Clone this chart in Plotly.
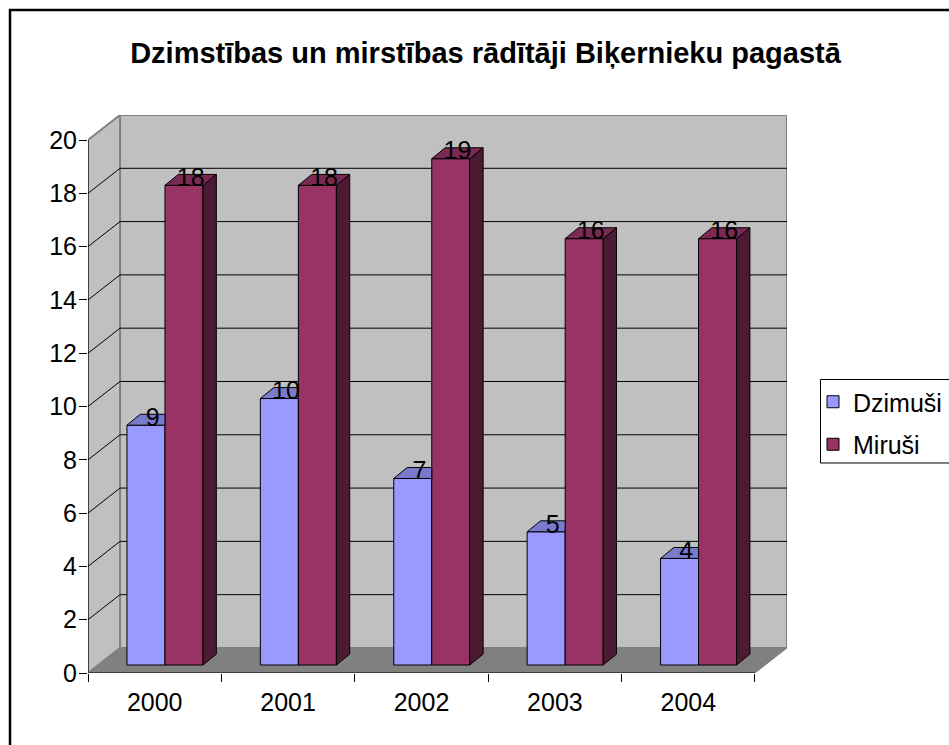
import plotly.graph_objects as go

# ---------------- data ----------------
years = ["2000", "2001", "2002", "2003", "2004"]
dzimusi = [9, 10, 7, 5, 4]
merusi = [18, 18, 19, 16, 16]
series_names = ["Dzimuši", "Miruši"]
y_ticks = [0, 2, 4, 6, 8, 10, 12, 14, 16, 18, 20]
title_text = "Dzimstības un mirstības rādītāji Biķernieku pagastā"

# ---------------- style / geometry ----------------
FONT = "Arial, 'Liberation Sans', sans-serif"
C_BLUE, C_BLUE_TOP = "#9999FF", "#7A7ACC"
C_MAR, C_MAR_TOP, C_MAR_SIDE = "#993366", "#7A2952", "#4D1A33"
C_WALL, C_FLOOR, C_EDGE = "#C0C0C0", "#808080", "#808080"

W, H = 949, 745
PL, PT, PW, PH = 88, 115, 699, 558   # plot area in pixels

N = len(years)
YMAX = max(y_ticks)
DX, DY = 0.24, 0.94           # 3D depth offset of the back wall (axis units)
BW = 0.285                    # bar width (category units)
SX0, SY0 = 0.077, 0.30        # bar front-face depth shift
DXB, DYB = 0.10, 0.41         # bar depth


def px_x(p):
    return (p - PL) / PW


def px_y(p):
    return (PT + PH - p) / PH


fig = go.Figure()

# ---- walls, floor, gridlines (background shapes) ----
shapes = []


def path(pts, close=True):
    s = "M " + " L ".join(f"{x},{y}" for x, y in pts)
    return s + (" Z" if close else "")


shapes.append(dict(type="path", xref="x", yref="y", layer="below",
                   path=path([(DX, DY), (N + DX, DY), (N + DX, YMAX + DY), (DX, YMAX + DY)]),
                   fillcolor=C_WALL, line=dict(color=C_EDGE, width=2)))
shapes.append(dict(type="path", xref="x", yref="y", layer="below",
                   path=path([(0, 0), (DX, DY), (DX, YMAX + DY), (0, YMAX)]),
                   fillcolor=C_WALL, line=dict(color=C_EDGE, width=2)))
shapes.append(dict(type="path", xref="x", yref="y", layer="below",
                   path=path([(0, 0), (N, 0), (N + DX, DY), (DX, DY)]),
                   fillcolor=C_FLOOR, line=dict(color=C_FLOOR, width=1)))
for v in y_ticks[1:-1]:
    shapes.append(dict(type="path", xref="x", yref="y", layer="below",
                       path=path([(0, v), (DX, v + DY), (N + DX, v + DY)], close=False),
                       line=dict(color="black", width=1)))
# front axis edges
shapes.append(dict(type="line", xref="x", yref="y", layer="below",
                   x0=0, y0=0, x1=0, y1=YMAX, line=dict(color="black", width=1)))
shapes.append(dict(type="line", xref="x", yref="y", layer="below",
                   x0=0, y0=0, x1=N, y1=0, line=dict(color="black", width=1)))
# outer chart border
shapes.append(dict(type="rect", xref="paper", yref="paper",
                   x0=px_x(10), x1=px_x(990), y0=px_y(790), y1=px_y(10),
                   line=dict(color="black", width=2.5), fillcolor="rgba(0,0,0,0)"))
# legend frame
shapes.append(dict(type="rect", xref="paper", yref="paper",
                   x0=px_x(820.5), x1=px_x(990), y0=px_y(463), y1=px_y(379.5),
                   line=dict(color="black", width=1), fillcolor="white"))

# ---- bar front faces ----
xb = [i + 0.5 - BW / 2 + SX0 for i in range(N)]
xm = [i + 0.5 + BW / 2 + SX0 for i in range(N)]
fig.add_trace(go.Bar(x=xb, y=dzimusi, base=SY0, width=BW, name=series_names[0],
                     legendgroup="a",
                     marker=dict(color=C_BLUE, line=dict(color="black", width=1)),
                     hoverinfo="skip"))
fig.add_trace(go.Bar(x=xm, y=merusi, base=SY0, width=BW, name=series_names[1],
                     legendgroup="b",
                     marker=dict(color=C_MAR, line=dict(color="black", width=1)),
                     hoverinfo="skip"))


# ---- top / side faces ----
def poly_trace(polys, color):
    xs, ys = [], []
    for p in polys:
        for x, y in p + [p[0]]:
            xs.append(x)
            ys.append(y)
        xs.append(None)
        ys.append(None)
    return go.Scatter(x=xs, y=ys, mode="lines", fill="toself", fillcolor=color,
                      line=dict(color="black", width=1), showlegend=False,
                      hoverinfo="skip")


blue_tops, mar_tops, mar_sides = [], [], []
for i in range(N):
    xl, xr = xb[i] - BW / 2, xb[i] + BW / 2
    t = dzimusi[i] + SY0
    if merusi[i] >= dzimusi[i]:
        blue_tops.append([(xl, t), (xr, t), (xr, t + DYB), (xl + DXB, t + DYB)])
    else:
        blue_tops.append([(xl, t), (xr, t), (xr + DXB, t + DYB), (xl + DXB, t + DYB)])
    xl, xr = xm[i] - BW / 2, xm[i] + BW / 2
    t = merusi[i] + SY0
    mar_tops.append([(xl, t), (xr, t), (xr + DXB, t + DYB), (xl + DXB, t + DYB)])
    mar_sides.append([(xr, SY0), (xr + DXB, SY0 + DYB), (xr + DXB, t + DYB), (xr, t)])

fig.add_trace(poly_trace(blue_tops, C_BLUE_TOP))
fig.add_trace(poly_trace(mar_sides, C_MAR_SIDE))
fig.add_trace(poly_trace(mar_tops, C_MAR_TOP))

# ---- data labels ----
lx = [x + DXB / 2 for x in xb] + [x + DXB / 2 for x in xm]
ly = [v + SY0 + DYB / 2 for v in dzimusi] + [v + SY0 + DYB / 2 for v in merusi]
lt = [str(v) for v in dzimusi] + [str(v) for v in merusi]
fig.add_trace(go.Scatter(x=lx, y=ly, text=lt, mode="text", textposition="middle center",
                         textfont=dict(family=FONT, size=25, color="black"),
                         showlegend=False, hoverinfo="skip"))

fig.update_layout(
    width=W, height=H,
    margin=dict(l=PL, r=W - PL - PW, t=PT, b=H - PT - PH, autoexpand=False),
    paper_bgcolor="white", plot_bgcolor="rgba(0,0,0,0)",
    barmode="overlay", shapes=shapes,
    font=dict(family=FONT, size=25, color="black"),
    title=dict(text="<b>" + title_text + "</b>", x=485.5 / W, xref="container",
               xanchor="center", y=1 - 53 / H, yref="container", yanchor="middle",
               font=dict(family=FONT, size=29, color="black")),
    legend=dict(x=813 / W, xref="container", y=1 - 379 / H, yref="container",
                xanchor="left", yanchor="top", bgcolor="rgba(0,0,0,0)",
                borderwidth=0, font=dict(family=FONT, size=25, color="black"),
                traceorder="grouped", tracegroupgap=7),
    xaxis=dict(range=[0, N + DX], showgrid=False, zeroline=False, showline=False,
               tickmode="array", tickvals=[i + 0.5 for i in range(N)], ticktext=years,
               ticks="", ticklabelstandoff=12,
               minor=dict(tickmode="array", tickvals=list(range(N + 1)), ticks="outside",
                          ticklen=8, tickcolor="black", tickwidth=1, showgrid=False),
               fixedrange=True),
    yaxis=dict(range=[0, YMAX + DY], showgrid=False, zeroline=False, showline=False,
               tickmode="array", tickvals=y_ticks, ticks="outside", ticklen=8,
               tickcolor="black", tickwidth=1, ticklabelstandoff=-3, fixedrange=True),
)

fig.write_html("out.html", config={"displayModeBar": False},
               post_script="document.body.style.margin='0px';")
